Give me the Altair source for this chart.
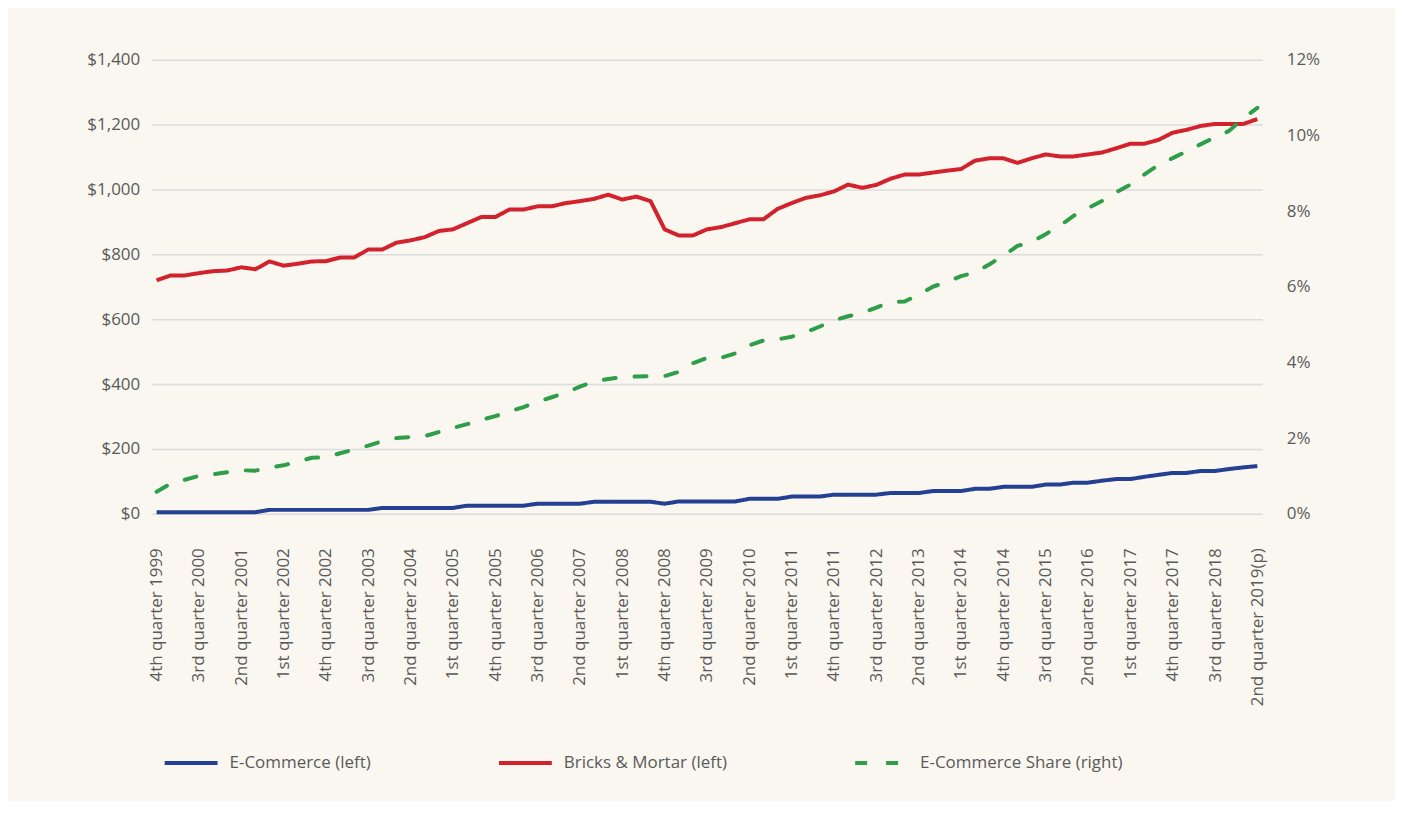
import altair as alt
import pandas as pd

quarters = []
ords = ["1st", "2nd", "3rd", "4th"]
yr, q = 1999, 4
for _ in range(79):
    quarters.append(f"{ords[q-1]} quarter {yr}")
    q += 1
    if q > 4:
        q = 1
        yr += 1
quarters[-1] = quarters[-1] + "(p)"

ecommerce = [5, 5, 5, 5, 5, 5, 5, 5, 12, 12,
             12, 12, 12, 12, 12, 12, 18, 18, 18, 18,
             18, 18, 25, 25, 25, 25, 25, 31, 31, 31,
             31, 37, 37, 37, 37, 37, 31, 38, 38, 38,
             38, 38, 46, 46, 46, 53, 53, 53, 59, 59,
             59, 59, 64, 64, 64, 70, 70, 70, 77, 77,
             83, 83, 83, 90, 90, 96, 96, 102, 107, 107,
             114, 120, 126, 126, 132, 132, 138, 143, 147]

bricks = [720, 735, 735, 742, 748, 750, 760, 754, 778, 765,
          771, 778, 779, 790, 790, 815, 815, 836, 843, 853,
          872, 877, 896, 915, 915, 938, 938, 948, 948, 958,
          964, 971, 984, 969, 978, 964, 877, 858, 858, 877,
          884, 896, 908, 908, 940, 958, 974, 982, 994, 1015,
          1005, 1014, 1033, 1046, 1046, 1052, 1058, 1063, 1089, 1096,
          1096, 1082, 1096, 1108, 1102, 1102, 1108, 1114, 1127, 1141,
          1141, 1153, 1175, 1184, 1196, 1202, 1202, 1202, 1217]

share = [0.58, 0.80, 0.90, 1.00, 1.04, 1.10, 1.15, 1.14, 1.22, 1.28,
         1.38, 1.48, 1.49, 1.60, 1.70, 1.80, 1.92, 2.00, 2.03, 2.05,
         2.16, 2.27, 2.37, 2.48, 2.58, 2.70, 2.82, 2.96, 3.08, 3.20,
         3.36, 3.50, 3.56, 3.61, 3.63, 3.64, 3.64, 3.75, 3.98, 4.12,
         4.12, 4.24, 4.45, 4.58, 4.61, 4.68, 4.80, 4.95, 5.11, 5.22,
         5.31, 5.45, 5.60, 5.61, 5.79, 6.00, 6.13, 6.28, 6.38, 6.59,
         6.82, 7.08, 7.18, 7.39, 7.61, 7.88, 8.08, 8.27, 8.50, 8.70,
         8.97, 9.22, 9.40, 9.58, 9.77, 9.95, 10.12, 10.45, 10.73]

series_names = ["E-Commerce (left)", "Bricks & Mortar (left)", "E-Commerce Share (right)"]
series_colors = ["#253F92", "#D2222D", "#2F9E48"]
series_dash = [[1, 0], [1, 0], [12, 19]]

left_df = pd.concat([
    pd.DataFrame({"quarter": quarters, "value": ecommerce, "series": series_names[0]}),
    pd.DataFrame({"quarter": quarters, "value": bricks, "series": series_names[1]}),
])
right_df = pd.DataFrame({"quarter": quarters, "value": share, "series": series_names[2]})

font = "Open Sans"
label_color = "#5A5A5A"
fs = 17

x_enc = alt.X(
    "quarter:N",
    sort=quarters,
    scale=alt.Scale(type="point", padding=0.35),
    axis=alt.Axis(
        values=quarters[::3], labelAngle=270, labelPadding=34, ticks=False, domain=False,
        grid=False, title=None, labelOverlap=False, labelFontSize=fs, labelColor=label_color,
        labelFont=font, labelLimit=400,
    ),
)

color_enc = alt.Color(
    "series:N",
    scale=alt.Scale(domain=series_names, range=series_colors),
    legend=alt.Legend(
        title=None, orient="none", direction="horizontal", columns=3,
        legendX=11, legendY=676, symbolType="stroke", symbolSize=2809,
        symbolStrokeWidth=4, labelFontSize=fs, labelColor=label_color, labelFont=font,
        columnPadding=120, labelOffset=10, padding=0, labelLimit=400,
    ),
)
dash_enc = alt.StrokeDash(
    "series:N",
    scale=alt.Scale(domain=series_names, range=series_dash),
    legend=None,
)

left = alt.Chart(left_df).mark_line(strokeWidth=4, strokeJoin="round").encode(
    x=x_enc,
    y=alt.Y(
        "value:Q",
        scale=alt.Scale(domain=[0, 1400], nice=False),
        axis=alt.Axis(
            values=[0, 200, 400, 600, 800, 1000, 1200, 1400], format="$,.0f", title=None,
            ticks=False, domain=False, gridColor="#DCDCDC", gridWidth=1.5,
            labelPadding=12, labelFontSize=fs, labelColor=label_color, labelFont=font,
        ),
    ),
    color=color_enc,
    strokeDash=dash_enc,
    detail="series:N",
)

right = alt.Chart(right_df).mark_line(strokeWidth=4, strokeCap="round", strokeJoin="round").encode(
    x=x_enc,
    y=alt.Y(
        "value:Q",
        scale=alt.Scale(domain=[0, 12], nice=False),
        axis=alt.Axis(
            orient="right", values=[0, 2, 4, 6, 8, 10, 12], labelExpr="datum.value + '%'",
            title=None, ticks=False, domain=False, grid=False, labelPadding=24,
            labelFontSize=fs, labelColor=label_color, labelFont=font,
        ),
    ),
    color=color_enc,
    strokeDash=dash_enc,
)

chart = alt.layer(left, right).resolve_scale(y="independent").properties(
    width=1113,
    height=455,
    autosize=alt.AutoSizeParams(type="none"),
    padding={"left": 144, "top": 51, "right": 133, "bottom": 287},
    background="#FAF7F0",
).configure_view(stroke=None)

chart.save("out.html", embed_options={"renderer": "svg", "actions": False})
